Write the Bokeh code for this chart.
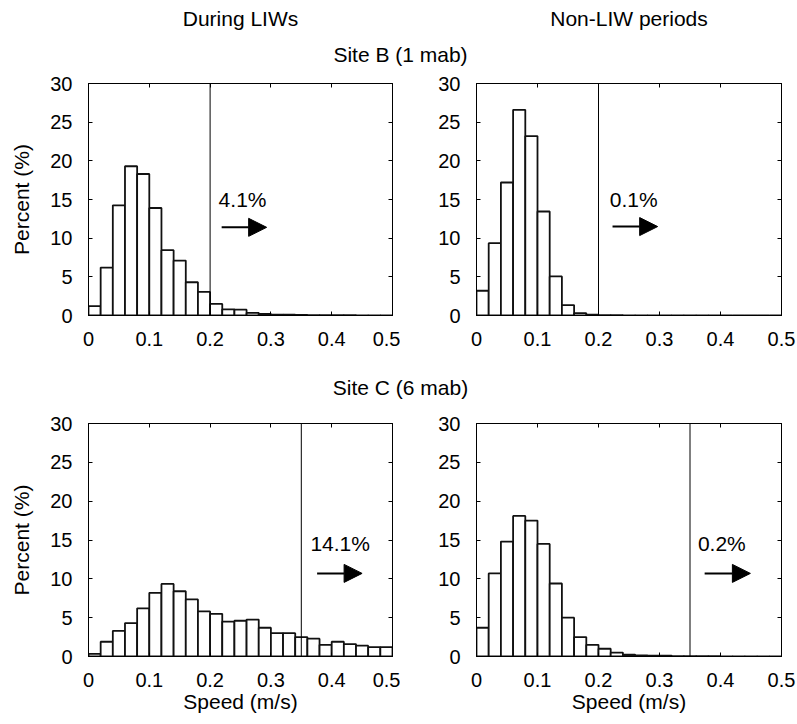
import numpy as np
from bokeh.plotting import figure
from bokeh.layouts import column, row
from bokeh.models import Range1d, LinearAxis, FixedTicker, Span, Arrow, NormalHead
from bokeh.core.properties import value
from bokeh.embed import file_html
from bokeh.resources import INLINE

FONT = "Liberation Sans"

# ---------------- data ----------------
column_titles = ["During LIWs", "Non-LIW periods"]
site_titles = ["Site B (1 mab)", "Site C (6 mab)"]

speed_ticks = [0, 0.1, 0.2, 0.3, 0.4, 0.5]
speed_tick_labels = ["0", "0.1", "0.2", "0.3", "0.4", "0.5"]
percent_ticks = [0, 5, 10, 15, 20, 25, 30]
bin_width = 0.02
n_bins = 25
bin_left = [round(i * bin_width, 2) for i in range(n_bins)]
bin_right = [round((i + 1) * bin_width, 2) for i in range(n_bins)]

site_b_liw = [1.2, 6.2, 14.25, 19.3, 18.3, 13.9, 8.45, 7.1, 4.3, 3.05,
              1.5, 0.8, 0.75, 0.35, 0.2, 0.12, 0.1, 0.07, 0.05, 0.04,
              0.03, 0.03, 0.02, 0.02, 0.02]
site_b_non = [3.2, 9.35, 17.2, 26.6, 23.2, 13.45, 5.05, 1.35, 0.3, 0.1,
              0.05, 0.03, 0.02, 0.02, 0.01, 0.01, 0.01, 0.01, 0.01, 0.01,
              0.0, 0.0, 0.0, 0.0, 0.0]
site_c_liw = [0.35, 1.9, 3.3, 4.3, 6.2, 8.2, 9.35, 8.4, 7.35, 5.8,
              5.5, 4.5, 4.6, 4.75, 3.7, 3.0, 3.0, 2.5, 2.3, 1.5,
              1.9, 1.6, 1.4, 1.2, 1.2]
site_c_non = [3.7, 10.7, 14.8, 18.1, 17.5, 14.5, 9.4, 5.0, 2.5, 1.5,
              1.0, 0.5, 0.25, 0.15, 0.1, 0.1, 0.05, 0.05, 0.03, 0.03,
              0.02, 0.02, 0.02, 0.01, 0.01]

thresholds = [0.2, 0.2, 0.35, 0.35]
exceed_labels = ["4.1%", "0.1%", "14.1%", "0.2%"]
label_x = [0.214, 0.2186, 0.365, 0.363]
label_y = [15.0, 15.0, 14.5, 14.5]
arrow_x0 = [0.219, 0.223, 0.376, 0.374]
arrow_x1 = [0.293, 0.297, 0.450, 0.449]
arrow_y = [11.4, 11.5, 10.7, 10.7]


def style_axis(ax, is_x, show_labels):
    if is_x:
        ax.ticker = FixedTicker(ticks=speed_ticks)
        ax.major_label_overrides = {t: l for t, l in zip(speed_ticks, speed_tick_labels)}
        ax.major_label_standoff = 16
    else:
        ax.ticker = FixedTicker(ticks=percent_ticks)
        ax.major_label_standoff = 16
    ax.minor_tick_line_color = None
    ax.major_tick_in = 4
    ax.major_tick_out = 0
    ax.major_tick_line_color = "black"
    ax.axis_line_color = "black"
    ax.axis_line_width = 1
    ax.major_label_text_font = FONT
    ax.axis_label_text_font = FONT
    ax.axis_label_text_font_size = "21px"
    ax.axis_label_text_font_style = "normal"
    ax.axis_label_text_color = "black"
    if show_labels:
        ax.major_label_text_font_size = "20px"
        ax.major_label_text_color = "black"
    else:
        ax.major_label_text_font_size = "1px"
        ax.major_label_text_color = None
        ax.major_label_standoff = 0


def panel(i, values, width, height, bl, br, bt, bb, ylabel=None, xlabel=None):
    p = figure(width=width, height=height, x_range=Range1d(0, 0.5), y_range=Range1d(0, 30),
               output_backend="svg", toolbar_location=None,
               min_border_left=bl, min_border_right=br, min_border_top=bt, min_border_bottom=bb)
    p.grid.visible = False
    p.outline_line_color = "black"
    p.outline_line_width = 1
    p.background_fill_color = "white"
    p.border_fill_color = "white"
    p.add_layout(LinearAxis(), "above")
    p.add_layout(LinearAxis(), "right")
    style_axis(p.below[0], True, True)
    style_axis(p.above[0], True, False)
    style_axis(p.left[0], False, True)
    style_axis(p.right[0], False, False)
    if ylabel:
        p.left[0].axis_label = ylabel
        p.left[0].axis_label_standoff = 14
    if xlabel:
        p.below[0].axis_label = xlabel
        p.below[0].axis_label_standoff = 0

    p.quad(left=bin_left, right=bin_right, bottom=0, top=values,
           fill_color="white", line_color="#111111", line_width=1.8)
    p.add_layout(Span(location=thresholds[i], dimension="height",
                      line_color="black", line_width=1))
    p.text(x=[label_x[i]], y=[label_y[i]], text=[exceed_labels[i]],
           text_font=value(FONT), text_font_size="21px", text_color="black",
           text_baseline="alphabetic", text_align="left")
    p.add_layout(Arrow(end=NormalHead(size=18, fill_color="black", line_color="black", line_width=1),
                       x_start=arrow_x0[i], y_start=arrow_y[i],
                       x_end=arrow_x1[i], y_end=arrow_y[i],
                       line_width=2, line_color="black"))
    return p


def header(width, height, xs, ys, texts):
    h = figure(width=width, height=height, x_range=Range1d(0, width), y_range=Range1d(height, 0),
               x_axis_type=None, y_axis_type=None, output_backend="svg", toolbar_location=None,
               min_border=0, outline_line_color=None)
    h.grid.visible = False
    h.text(x=xs, y=ys, text=texts, text_font=value(FONT), text_font_size="21px",
           text_color="black", text_align="center", text_baseline="alphabetic")
    return h


hdr_top = header(797, 70, [240, 628.5, 400], [18, 18, 54],
                 [column_titles[0], column_titles[1], site_titles[0]])
p1 = panel(0, site_b_liw, 400, 285, 88, 8, 13, 40, ylabel="Percent (%)")
p2 = panel(1, site_b_non, 397, 285, 76, 16, 13, 40)
hdr_mid = header(797, 55, [400], [32], [site_titles[1]])
p3 = panel(2, site_c_liw, 400, 314, 88, 8, 13, 68, ylabel="Percent (%)", xlabel="Speed (m/s)")
p4 = panel(3, site_c_non, 397, 314, 76, 16, 13, 68, xlabel="Speed (m/s)")

layout = column(hdr_top, row(p1, p2), hdr_mid, row(p3, p4))

open("out.html", "w").write(file_html(layout, INLINE))
